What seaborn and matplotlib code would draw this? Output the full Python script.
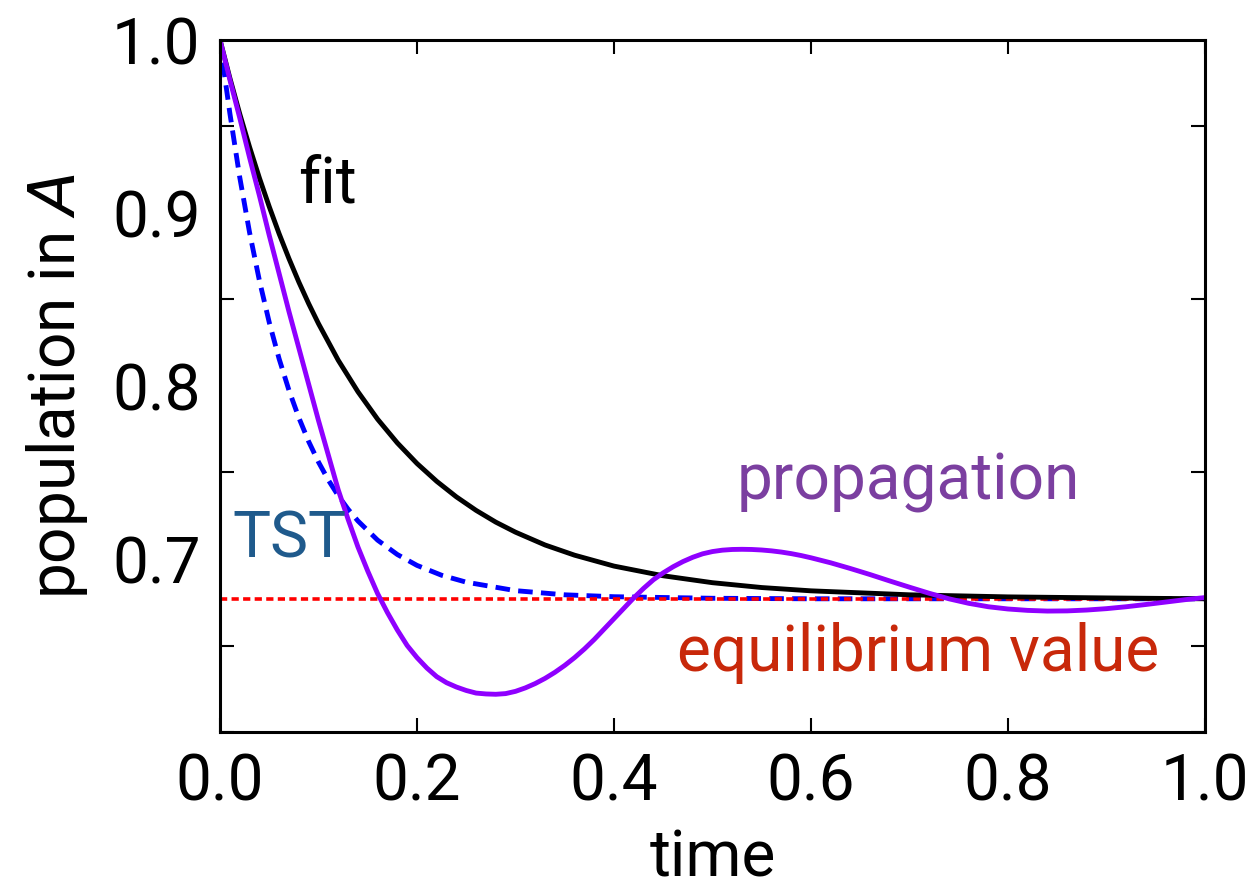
import numpy as np
import pandas as pd
import seaborn as sns
import matplotlib.pyplot as plt

# values
t_fit = [0, 0.01, 0.02, 0.03, 0.04, 0.05, 0.06, 0.07, 0.08, 0.09, 0.1, 0.12, 0.14,
         0.16, 0.18, 0.2, 0.22, 0.24, 0.26, 0.28, 0.3, 0.33, 0.36, 0.4, 0.45, 0.5,
         0.55, 0.6, 0.7, 0.8, 0.9, 1.0]
pop_fit = [1.0, 0.978, 0.9573, 0.9381, 0.9202, 0.9036, 0.888, 0.8736, 0.8601, 0.8476,
           0.836, 0.8149, 0.7967, 0.7808, 0.7671, 0.7552, 0.7449, 0.7359, 0.7281,
           0.7213, 0.7155, 0.7081, 0.7022, 0.6959, 0.6903, 0.6863, 0.6835, 0.6816,
           0.6793, 0.6781, 0.6775, 0.677]

t_tst = [0, 0.005, 0.01, 0.02, 0.03, 0.04, 0.05, 0.06, 0.07, 0.08, 0.09, 0.1, 0.11,
         0.12, 0.13, 0.14, 0.16, 0.18, 0.2, 0.225, 0.25, 0.3, 0.35, 0.4, 0.5, 0.6,
         0.8, 1.0]
pop_tst = [1.0, 0.978, 0.9576, 0.9207, 0.8887, 0.8609, 0.8367, 0.8157, 0.7975, 0.7817,
           0.7679, 0.756, 0.7456, 0.7366, 0.7288, 0.722, 0.7109, 0.7026, 0.6963,
           0.6906, 0.6866, 0.6817, 0.6793, 0.6782, 0.6773, 0.677, 0.677, 0.677]

t_prop = [0, 0.01, 0.02, 0.03, 0.04, 0.05, 0.06, 0.07, 0.08, 0.09, 0.1, 0.11, 0.12,
          0.13, 0.14, 0.15, 0.16, 0.17, 0.18, 0.19, 0.2, 0.21, 0.22, 0.23, 0.24,
          0.25, 0.26, 0.27, 0.28, 0.29, 0.3, 0.31, 0.32, 0.33, 0.34, 0.35, 0.36,
          0.37, 0.38, 0.39, 0.4, 0.41, 0.42, 0.43, 0.44, 0.45, 0.46, 0.47, 0.48,
          0.49, 0.5, 0.51, 0.52, 0.53, 0.54, 0.55, 0.56, 0.57, 0.58, 0.59, 0.6,
          0.62, 0.64, 0.66, 0.68, 0.7, 0.72, 0.74, 0.76, 0.78, 0.8, 0.82, 0.84,
          0.86, 0.88, 0.9, 0.92, 0.94, 0.96, 0.98, 1.0]
pop_prop = [1.0, 0.977, 0.955, 0.932, 0.91, 0.887, 0.865, 0.843, 0.822, 0.801, 0.78,
            0.76, 0.74, 0.723, 0.707, 0.693, 0.68, 0.669, 0.659, 0.65, 0.643, 0.637,
            0.632, 0.6285, 0.626, 0.624, 0.6225, 0.622, 0.6218, 0.6222, 0.6235,
            0.6255, 0.628, 0.631, 0.6345, 0.6385, 0.643, 0.648, 0.6535, 0.6595,
            0.6655, 0.6715, 0.6775, 0.683, 0.688, 0.692, 0.6955, 0.6985, 0.701,
            0.703, 0.7043, 0.7051, 0.7055, 0.7056, 0.7055, 0.7052, 0.7047, 0.704,
            0.7031, 0.702, 0.7007, 0.6978, 0.6945, 0.691, 0.6873, 0.6837, 0.6802,
            0.677, 0.6744, 0.6724, 0.6711, 0.6703, 0.6699, 0.67, 0.6705, 0.6713,
            0.6724, 0.6737, 0.6751, 0.6765, 0.6777]

eq_value = 0.677

sns.set_style("ticks")
plt.rcParams['font.family'] = ['Roboto', 'DejaVu Sans']
plt.rcParams['text.color'] = 'black'
plt.rcParams['axes.labelcolor'] = 'black'
plt.rcParams['xtick.color'] = 'black'
plt.rcParams['ytick.color'] = 'black'

fig = plt.figure(figsize=(12.48, 8.94), dpi=100)
ax = fig.add_axes([0.1763, 0.1812, 0.7892, 0.7741])

sns.lineplot(x=t_tst, y=pop_tst, ax=ax, color="#0000ff", linewidth=3.5)
ax.lines[-1].set_dashes([3, 1.7])
ax.axhline(eq_value, color="#ff0000", linewidth=2.6, linestyle=(0, (2, 1.2)))
sns.lineplot(x=t_fit, y=pop_fit, ax=ax, color="black", linewidth=3.5)
sns.lineplot(x=t_prop, y=pop_prop, ax=ax, color="#8f00ff", linewidth=3.5)

ax.set_xlim(0, 1)
ax.set_ylim(0.6, 1.0)
ax.set_xticks([0, 0.2, 0.4, 0.6, 0.8, 1.0])
ax.set_xticklabels(["0.0", "0.2", "0.4", "0.6", "0.8", "1.0"])
ax.set_yticks([0.7, 0.8, 0.9, 1.0])
ax.set_yticklabels(["0.7", "0.8", "0.9", "1.0"])
ax.set_yticks(np.arange(0.6, 1.001, 0.05), minor=True)
ax.tick_params(axis='both', which='both', direction='in', top=True, right=True,
               labelsize=46, width=1.5, length=10, pad=14)
ax.tick_params(axis='y', which='major', length=0)
ax.tick_params(axis='y', which='minor', length=10)
for s in ax.spines.values():
    s.set_linewidth(2.2)
    s.set_color('black')

ax.set_xlabel("time", fontsize=46, labelpad=10)
ax.set_ylabel("population in $\\it{A}$", fontsize=46, labelpad=16)

ax.text(0.079, 0.906, "fit", fontsize=46, color="black")
ax.text(0.013, 0.701, "TST", fontsize=46, color="#1f5a8c")
ax.text(0.525, 0.7344, "propagation", fontsize=46, color="#7b3fa0")
ax.text(0.464, 0.635, "equilibrium value", fontsize=46, color="#c8280a")

plt.savefig("out.png", dpi=100)
